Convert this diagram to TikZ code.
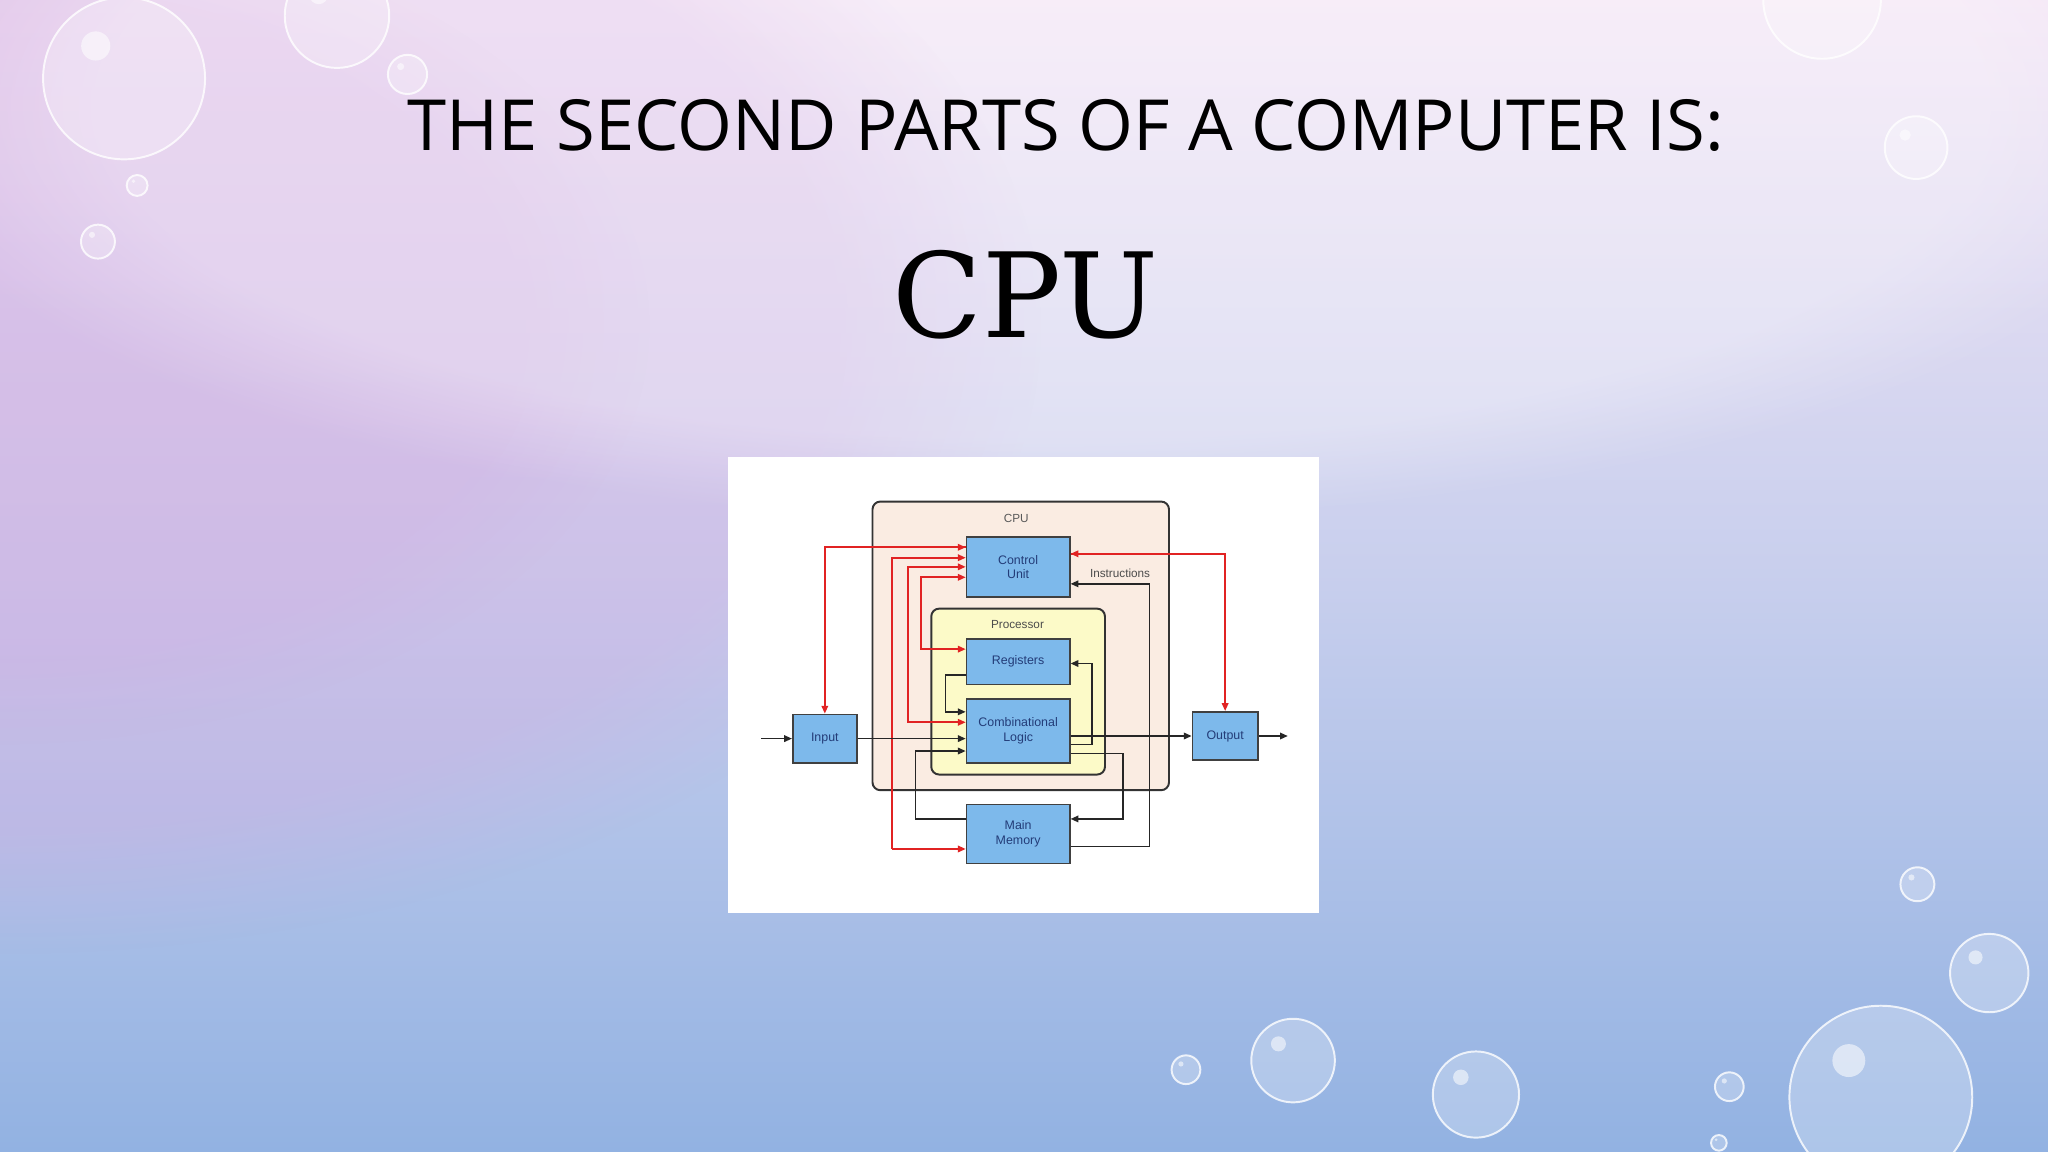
\documentclass[tikz,border=0pt]{standalone}
\usepackage{fontspec}
\setmainfont{Liberation Sans}
\newfontfamily\titlefont{Open Sans}
\newfontfamily\serifcpu{DejaVu Serif}
\usetikzlibrary{arrows.meta,fadings}
\definecolor{bgtop}{RGB}{244,230,246}
\definecolor{bgbot}{RGB}{146,178,226}
\definecolor{pinkl}{RGB}{212,170,225}
\definecolor{boxblue}{RGB}{125,185,235}
\definecolor{cpufill}{RGB}{250,236,226}
\definecolor{procfill}{RGB}{252,250,200}
\definecolor{redl}{RGB}{225,35,35}
\definecolor{txtblue}{RGB}{35,60,120}
\tikzset{
  unitbox/.style={draw=black!75,line width=1.3pt,fill=boxblue,inner sep=0pt,font=\fontsize{9.5}{11}\selectfont\color{txtblue},align=center},
  rl/.style={draw=redl,line width=1.3pt,-{Triangle[length=6pt,width=5pt]}},
  bl/.style={draw=black!85,line width=1.3pt,-{Triangle[length=6pt,width=5pt]}},
  bub/.style={fill=white,fill opacity=0.25,draw=white,draw opacity=0.8,line width=1.5pt},
}
\begin{document}
\begin{tikzpicture}[x=1pt,y=-1pt]
\useasboundingbox (0,0) rectangle (1568,882);
\shade[top color=bgtop,bottom color=bgbot,middle color=bgtop!55!bgbot] (0,0) rectangle (1568,882);
\begin{scope}
\clip (0,0) rectangle (1568,882);
\fill[pinkl,opacity=0.35,path fading=circle with fuzzy edge 20 percent] (0,250) ellipse (800 and 480);
\fill[pinkl,opacity=0.25,path fading=circle with fuzzy edge 20 percent] (0,250) ellipse (500 and 320);
\fill[white,opacity=0.3,path fading=circle with fuzzy edge 20 percent] (800,80) ellipse (900 and 320);
\end{scope}
% bubbles
\foreach \x/\y/\r in {95/60/62,258/12/40,312/57/15,105/142/8,75/185/13,1395/0/45,1467/113/24,1468/677/13,1523/745/30,990/812/32,1130/838/33,908/819/11,1324/832/11,1440/840/70,1316/875/6}{
  \draw[bub] (\x,\y) circle (\r);
  \fill[white,opacity=0.55] (\x-0.35*\r,\y-0.4*\r) circle (0.18*\r);
}
\node (title) at (816,96) {\titlefont\fontsize{54}{58}\selectfont THE SECOND PARTS OF A COMPUTER IS:};
\node (cpu) at (785,226) {\serifcpu\fontsize{90}{96}\selectfont CPU};
% diagram
\fill[white] (557,350) rectangle (1010,699);
\draw[black!80,line width=1.5pt,fill=cpufill,rounded corners=6pt] (668,384) rectangle (895,605);
\node[font=\fontsize{9}{10}\selectfont\color{black!65}] (cpul) at (778,397) {CPU};
\draw[black!80,line width=1.5pt,fill=procfill,rounded corners=6pt] (713,466) rectangle (846,593);
\node[font=\fontsize{9}{10}\selectfont\color{black!70}] (procl) at (779,478) {Processor};
\node[unitbox,minimum width=79pt,minimum height=46pt] (cu) at (779.5,434) {Control\\Unit};
\node[unitbox,minimum width=79pt,minimum height=35pt] (reg) at (779.5,506.5) {Registers};
\node[unitbox,minimum width=79pt,minimum height=49pt] (cl) at (779.5,559.5) {Combinational\\Logic};
\node[unitbox,minimum width=49pt,minimum height=37pt] (in) at (631.5,565.5) {Input};
\node[unitbox,minimum width=50pt,minimum height=37pt] (out) at (938,563.5) {Output};
\node[unitbox,minimum width=79pt,minimum height=45pt] (mem) at (779.5,638.5) {Main\\Memory};
\node[font=\fontsize{9}{10}\selectfont\color{black!70},anchor=west] (instr) at (831,439) {Instructions};
\coordinate (inl) at (583,565.5);
\coordinate (outr) at (986,563.5);
% red control lines
\draw[rl] (cu.west|-0,419) -| (in.north);
\draw[redl,line width=1.3pt,{Triangle[length=6pt,width=5pt]}-] (cu.west|-0,419) -- (631,419);
\draw[rl] (683,650) -- (mem.west|-0,650);
\draw[rl] (683,650) |- (cu.west|-0,427);
\draw[rl] (695,553) |- (cu.west|-0,434);
\draw[rl] (695,434) |- (cl.west|-0,553);
\draw[rl] (705,497) |- (cu.west|-0,442);
\draw[rl] (705,442) |- (reg.west|-0,497);
\draw[rl] (936,424) -- (cu.east|-0,424);
\draw[rl] (cu.east|-0,424) -| (out.north);
% black data lines
\draw[bl] (inl) -- (in.west);
\draw[bl] (in.east) -- (cl.west|-in.east);
\draw[bl] (cl.east|-out.west) -- (out.west);
\draw[bl] (out.east) -- (outr);
\draw[bl] (reg.west|-0,517) -| (724,545) -- (cl.west|-0,545);
\draw[bl] (cl.east|-0,570) -| (836,508) -- (reg.east|-0,508);
\draw[bl] (cl.east|-0,577) -| (860,627) -- (mem.east|-0,627);
\draw[bl] (mem.west|-0,627) -| (701,575) -- (cl.west|-0,575);
\draw[bl] (mem.east|-0,648) -| (880,447) -- (cu.east|-0,447);
\end{tikzpicture}
\end{document}
